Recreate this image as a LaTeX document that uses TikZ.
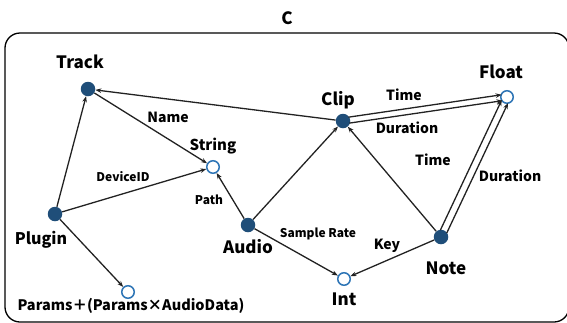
\documentclass[tikz,border=0pt]{standalone}
\usepackage{fontspec}
\setmainfont{Noto Sans CJK JP}
\usetikzlibrary{arrows.meta,calc}
\definecolor{navy}{RGB}{31,78,121}
\definecolor{ringblue}{RGB}{46,117,182}
\definecolor{ink}{RGB}{34,34,34}
\tikzset{
  entity/.style={circle,fill=navy,draw=none,minimum size=14.5pt,inner sep=0pt},
  valuetype/.style={circle,fill=white,draw=ringblue,line width=1.5pt,minimum size=12.5pt,inner sep=0pt},
  nodelabel/.style={font=\bfseries\fontsize{17}{17}\selectfont,inner sep=0pt},
  edgelabel/.style={font=\bfseries\fontsize{14}{14}\selectfont,inner sep=0pt},
  smalllabel/.style={font=\bfseries\fontsize{12}{12}\selectfont,inner sep=0pt},
  link/.style={draw=ink,line width=1.3pt,-{Stealth[length=6pt,width=4.5pt]}},
}
\begin{document}
\begin{tikzpicture}[x=1pt,y=-1pt]
\useasboundingbox (0,0) rectangle (567,322);
% outer frame of the category
\draw[line width=1.3pt,rounded corners=15pt] (5,33) rectangle (569,322);
\node[nodelabel] (title) at (287,18) {C};

% objects
\node[entity] (track) at (88,89) {};
\node[valuetype] (string) at (213,167) {};
\node[entity] (plugin) at (55,214) {};
\node[valuetype] (params) at (128,292) {};
\node[entity] (audio) at (248,225) {};
\node[entity] (clip) at (343,121) {};
\node[valuetype] (float) at (507,97) {};
\node[entity] (note) at (441,237) {};
\node[valuetype] (int) at (344,279) {};

% object names
\node[nodelabel] (trackL) at (80,62) {Track};
\node[edgelabel,font=\bfseries\fontsize{15}{15}\selectfont] (stringL) at (213,146) {String};
\node[nodelabel,font=\bfseries\fontsize{16}{16}\selectfont] (pluginL) at (41,240) {Plugin};
\node[edgelabel,font=\bfseries\fontsize{14.5}{14.5}\selectfont] (paramsL) at (131,306) {Params＋(Params×AudioData)};
\node[nodelabel] (audioL) at (248,247) {Audio};
\node[nodelabel] (clipL) at (338,100) {Clip};
\node[nodelabel] (floatL) at (501,72) {Float};
\node[nodelabel] (noteL) at (446,268) {Note};
\node[nodelabel] (intL) at (344,299) {Int};

% morphisms
\draw[link] (clip) -- (track);
\draw[link] (track) -- (string);
\draw[link] (plugin) -- (track);
\draw[link] (plugin) -- (string);
\draw[link] (plugin) -- (params);
\draw[link] (audio) -- (string);
\draw[link] (audio) -- (clip);
\draw[link] (audio) -- (int);
\draw[link] (note) -- (clip);
\draw[link] (note) -- (int);
% parallel pairs into Float
\draw[link,shorten <=6pt,shorten >=5pt] ($(clip)!3pt!90:(float)$) -- ($(float)!3pt!-90:(clip)$);
\draw[link,shorten <=6pt,shorten >=5pt] ($(clip)!3pt!-90:(float)$) -- ($(float)!3pt!90:(clip)$);
\draw[link,shorten <=6pt,shorten >=5pt] ($(note)!3.5pt!90:(float)$) -- ($(float)!3.5pt!-90:(note)$);
\draw[link,shorten <=6pt,shorten >=5pt] ($(note)!3.5pt!-90:(float)$) -- ($(float)!3.5pt!90:(note)$);

% morphism names
\node[edgelabel] (nameL) at (168,117) {Name};
\node[smalllabel] (deviceL) at (123,177) {DeviceID};
\node[smalllabel] (pathL) at (209,200) {Path};
\node[smalllabel] (rateL) at (318,234) {Sample Rate};
\node[edgelabel] (keyL) at (387,246) {Key};
\node[edgelabel] (timeA) at (404,95) {Time};
\node[edgelabel] (durA) at (407,128) {Duration};
\node[edgelabel] (timeB) at (433,160) {Time};
\node[edgelabel] (durB) at (510,176) {Duration};
\end{tikzpicture}
\end{document}
